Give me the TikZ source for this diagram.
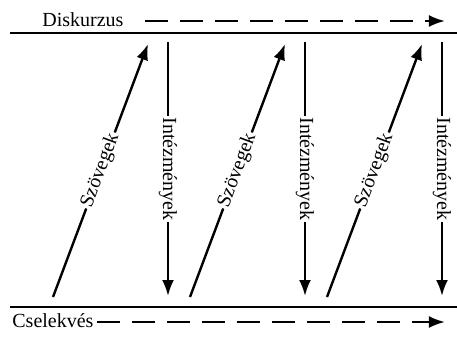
\documentclass[tikz,border=0pt]{standalone}
\usepackage{fontspec}
\setmainfont{Liberation Serif}
\usetikzlibrary{arrows.meta,positioning}

\begin{document}
\begin{tikzpicture}[x=0.5pt,y=-0.5pt,
    flow/.style={line width=1.2pt,-{Latex[length=8pt,width=6pt]}},
    timeline/.style={line width=1.2pt,dash pattern=on 11.5pt off 6pt,-{Latex[length=8pt,width=6pt]}},
    lbl/.style={fill=white,inner sep=0.8pt}]
    \useasboundingbox (0,0) rectangle (457,338);

    \path
    (10,33) coordinate (Dl)
    (457,33) coordinate (Dr)
    (10,307) coordinate (Cl)
    (457,307) coordinate (Cr)
    ;
    \draw[line width=1pt] (Dl) -- (Dr);
    \draw[line width=1pt] (Cl) -- (Cr);

    \node[anchor=west,inner sep=0pt] (disk) at (42,20) {Diskurzus};
    \node[anchor=west,inner sep=0pt] (cselek) at (12,321) {Cselekvés};
    \path
    (145,21) coordinate (diskA)
    (445,21) coordinate (diskB)
    (97,322) coordinate (cselekA)
    (445,322) coordinate (cselekB)
    ;
    \draw[timeline] (diskA) -- (diskB);
    \draw[timeline] (cselekA) -- (cselekB);

    \path
    (53,297) coordinate (S1a)
    (148,44) coordinate (S1b)
    (168,42) coordinate (I1a)
    (168,296) coordinate (I1b)
    ;
    \draw[flow] (S1a) -- node[lbl,sloped] (szov1) {Szövegek} (S1b);
    \draw[flow] (I1a) -- node[lbl,rotate=-90] (intez1) {Intézmények} (I1b);

    \path
    (190,297) coordinate (S2a)
    (285,44) coordinate (S2b)
    (305,42) coordinate (I2a)
    (305,296) coordinate (I2b)
    ;
    \draw[flow] (S2a) -- node[lbl,sloped] (szov2) {Szövegek} (S2b);
    \draw[flow] (I2a) -- node[lbl,rotate=-90] (intez2) {Intézmények} (I2b);

    \path
    (327,297) coordinate (S3a)
    (422,44) coordinate (S3b)
    (442,42) coordinate (I3a)
    (442,296) coordinate (I3b)
    ;
    \draw[flow] (S3a) -- node[lbl,sloped] (szov3) {Szövegek} (S3b);
    \draw[flow] (I3a) -- node[lbl,rotate=-90] (intez3) {Intézmények} (I3b);
\end{tikzpicture}
\end{document}
